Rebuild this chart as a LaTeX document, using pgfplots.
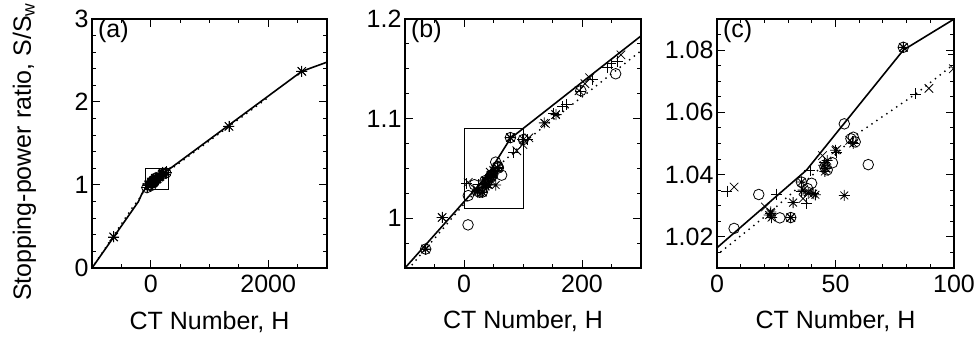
\documentclass[border=0pt]{standalone}
\usepackage{fontspec}
\setmainfont{Liberation Sans}
\usepackage{pgfplots}
\pgfplotsset{compat=1.18}
\usepackage{pgfplotstable}

\newcommand\bigf{\fontsize{25}{30}\selectfont}

\pgfdeclareplotmark{ast8}{%
  \pgfpathmoveto{\pgfqpoint{-\pgfplotmarksize}{0pt}}%
  \pgfpathlineto{\pgfqpoint{\pgfplotmarksize}{0pt}}%
  \pgfpathmoveto{\pgfqpoint{0pt}{-\pgfplotmarksize}}%
  \pgfpathlineto{\pgfqpoint{0pt}{\pgfplotmarksize}}%
  \pgfpathmoveto{\pgfqpoint{-0.707\pgfplotmarksize}{-0.707\pgfplotmarksize}}%
  \pgfpathlineto{\pgfqpoint{0.707\pgfplotmarksize}{0.707\pgfplotmarksize}}%
  \pgfpathmoveto{\pgfqpoint{-0.707\pgfplotmarksize}{0.707\pgfplotmarksize}}%
  \pgfpathlineto{\pgfqpoint{0.707\pgfplotmarksize}{-0.707\pgfplotmarksize}}%
  \pgfusepathqstroke}

% fitted curves
\pgfplotstableread{
H S
-1000 0
-630 0.374
-210 0.800
-150 0.895
-100 0.950
0 1.0165
37.7 1.0414
78.6 1.0800
300 1.183
2571 2.370
3000 2.480
}\solidcurve

\pgfplotstableread{
H S
-1000 0
-330 0.710
-200 0.830
-100 0.945
0 1.0142
21 1.0270
45 1.0430
60 1.0535
84 1.0660
100 1.0755
300 1.168
2000 2.055
}\dottedcurve

\pgfplotstableread{
H S
-65 0.969
6.8 0.9933
7.2 1.0227
17.6 1.0336
26.5 1.0261
31.1 1.0262
35.6 1.0376
38.2 1.0355
39.9 1.0372
45.5 1.0425
46.5 1.0415
48.7 1.0438
53.7 1.0563
56.5 1.0515
57.5 1.0520
58.3 1.0505
63.8 1.0432
78.6 1.0809
100.6 1.0790
198 1.1280
257 1.1450
}\circles

\pgfplotstableread{
H S
-630 0.374
-65 0.969
-37 1.0007
4.2 1.0347
22.5 1.0275
25.1 1.0337
31.1 1.0262
35.5 1.0345
37.7 1.0307
39.2 1.0414
45.5 1.0440
50.5 1.0470
57.0 1.0505
78.6 1.0809
83.9 1.0659
99.7 1.0787
108 1.0790
152 1.1050
167 1.1120
173 1.1140
198 1.1270
218 1.1390
243.6 1.1510
249 1.1550
260 1.1570
1331 1.707
2571 2.370
}\pluses

\pgfplotstableread{
H S
-630 0.374
-65 0.969
-37 1.0007
7.2 1.0360
20.4 1.0296
22.7 1.0275
31.1 1.0262
36.3 1.0323
38.5 1.0345
44.5 1.0461
46.0 1.0420
50.5 1.0480
56.0 1.0510
78.6 1.0809
89.4 1.0677
99.7 1.0740
110 1.0807
138 1.0950
155 1.1040
195 1.1280
205 1.1350
213 1.1410
266 1.1640
1331 1.707
2571 2.370
}\crosses

\pgfplotstableread{
H S
-630 0.374
-65 0.969
-37 1.0007
22.0 1.0270
23.0 1.0262
22.7 1.0280
31.1 1.0262
32.1 1.0310
35.6 1.0376
36.3 1.0350
38.5 1.0340
40.6 1.0339
41.5 1.0335
45.0 1.0430
45.5 1.0410
46.0 1.0420
46.5 1.0445
50.0 1.0478
53.7 1.0333
57.5 1.0500
78.6 1.0809
100.6 1.0790
136 1.0957
156 1.1040
1331 1.707
2571 2.370
}\asterisks

\pgfplotsset{
  panel/.style={
    scale only axis, anchor=south west, height=249pt,
    tick align=inside, xtick pos=both, ytick pos=both,
    xticklabel pos=lower, yticklabel pos=left,
    major tick length=8pt, minor tick length=4pt,
    every tick/.style={black, line width=1pt},
    axis line style={line width=1.3pt},
    tick label style={font=\bigf},
    xticklabel style={yshift=-4pt},
    label style={font=\bigf},
    clip marker paths=true,
    xlabel={CT Number, H},
    xlabel style={at={(axis description cs:0.5,0)}, anchor=base, yshift=-61pt},
  },
  solidc/.style={black, line width=1.6pt, no markers},
  dottedc/.style={black, line width=2pt, line cap=round, dash pattern=on 0pt off 6pt, no markers},
  mk/.style={black, only marks, mark options={line width=0.8pt}},
}

\newcommand\allseries{%
  \addplot[dottedc] table[x=H,y=S] {\dottedcurve};
  \addplot[solidc] table[x=H,y=S] {\solidcurve};
  \addplot[mk, mark=o, mark size=5.3pt] table[x=H,y=S] {\circles};
  \addplot[mk, mark=+, mark size=5.5pt] table[x=H,y=S] {\pluses};
  \addplot[mk, mark=x, mark size=6pt] table[x=H,y=S] {\crosses};
  \addplot[mk, mark=ast8, mark size=5.5pt] table[x=H,y=S] {\asterisks};
}

\begin{document}
\begin{tikzpicture}
\useasboundingbox (0,0) rectangle (977pt,337pt);

% (a)
\begin{axis}[panel, at={(92pt,69pt)}, width=235pt,
  xmin=-1000, xmax=3000, ymin=0, ymax=3,
  xtick={0,2000}, xticklabels={0,2000},
  minor xtick={-500,500,1000,1500,2500},
  ytick={0,1,2,3}, yticklabels={0,1,2,3},
  minor ytick={0.2,0.4,0.6,0.8,1.2,1.4,1.6,1.8,2.2,2.4,2.6,2.8},
  ylabel={Stopping-power ratio, S/S\textsubscript{w}},
  ylabel style={at={(axis description cs:-0.26,0.466)}, anchor=base},
]
\allseries
\addplot[black, line width=0.6pt, no markers] coordinates {(-100,0.95) (300,0.95) (300,1.2) (-100,1.2) (-100,0.95)};
\node[anchor=north west, font=\bigf, inner sep=0pt] at (rel axis cs:0.025,1) {(a)};
\end{axis}

% (b)
\begin{axis}[panel, at={(405pt,69pt)}, width=236pt,
  xmin=-100, xmax=300, ymin=0.95, ymax=1.2,
  xtick={0,200}, xticklabels={0,200},
  minor xtick={-50,50,100,150,250},
  ytick={1,1.1,1.2}, yticklabels={1,1.1,1.2},
  minor ytick={0.975,1.025,1.05,1.075,1.125,1.15,1.175},
]
\allseries
\addplot[black, line width=0.6pt, no markers] coordinates {(0,1.01) (100,1.01) (100,1.09) (0,1.09) (0,1.01)};
\node[anchor=north west, font=\bigf, inner sep=0pt] at (rel axis cs:0.025,1) {(b)};
\end{axis}

% (c)
\begin{axis}[panel, at={(717pt,69pt)}, width=237pt,
  xmin=0, xmax=100, ymin=1.01, ymax=1.09,
  xtick={0,50,100}, xticklabels={0,50,100},
  minor xtick={10,20,30,40,60,70,80,90},
  ytick={1.02,1.04,1.06,1.08}, yticklabels={1.02,1.04,1.06,1.08},
  minor ytick={1.015,1.025,1.03,1.035,1.045,1.05,1.055,1.065,1.07,1.075,1.085},
]
\allseries
\node[anchor=north west, font=\bigf, inner sep=0pt] at (rel axis cs:0.025,1) {(c)};
\end{axis}
\end{tikzpicture}
\end{document}
